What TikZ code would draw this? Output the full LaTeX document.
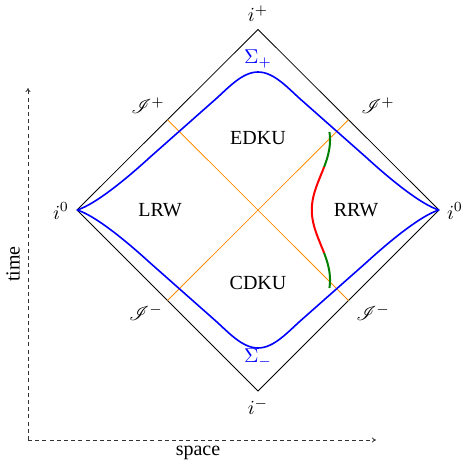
\documentclass[tikz,border=0pt]{standalone}
\usepackage{mathrsfs}
\usepackage{fontspec}
\setmainfont{Liberation Serif}
\usetikzlibrary{arrows.meta}
\definecolor{darkgreen}{RGB}{0,128,0}
\tikzset{
  edge/.style={black, line width=0.4pt},
  horizon/.style={orange!90!yellow, line width=0.4pt},
  sigma/.style={blue, line width=0.8pt},
  axis/.style={black!80, line width=0.4pt, dash pattern=on 2pt off 1.6pt, -{To[length=2pt,width=2.5pt]}},
  lbl/.style={font=\normalsize, inner sep=1pt},
}
\begin{document}
\begin{tikzpicture}[x=0.5pt,y=-0.5pt]
\useasboundingbox (0,0) rectangle (468,469);
% vertices
\coordinate (T) at (258,29.5);
\coordinate (L) at (77,210);
\coordinate (R) at (439,210);
\coordinate (B) at (258,391);
% diamond
\draw[edge] (T) -- (R) -- (B) -- (L) -- cycle;
% horizons
\coordinate (mTL) at (167.5,119.75);
\coordinate (mTR) at (348.5,119.75);
\coordinate (mBL) at (167.5,300.5);
\coordinate (mBR) at (348.5,300.5);
\draw[horizon] (mTL) -- (mBR);
\draw[horizon] (mTR) -- (mBL);
% Sigma +
\draw[sigma] (L) .. controls (94,205) and (124,181) .. (150,157.2)
  -- (215,99.7) .. controls (228,88.2) and (242,72) .. (258,72)
  .. controls (274,72) and (288,88.2) .. (301,99.7)
  -- (366,157.2) .. controls (392,181) and (422,205) .. (R);
% Sigma -
\draw[sigma] (L) .. controls (94,215) and (124,239) .. (150,262.8)
  -- (215,320.3) .. controls (228,331.8) and (242,348) .. (258,348)
  .. controls (274,348) and (288,331.8) .. (301,320.3)
  -- (366,262.8) .. controls (392,239) and (422,215) .. (R);
% red/green curve
\draw[darkgreen, line width=1pt] plot[domain=132:167, samples=30, variable=\t] ({320.9-9.1*cos(180*(\t-210)/70)}, \t);
\draw[red, line width=1pt] plot[domain=167:253, samples=50, variable=\t] ({320.9-9.1*cos(180*(\t-210)/70)}, \t);
\draw[darkgreen, line width=1pt] plot[domain=253:288, samples=30, variable=\t] ({320.9-9.1*cos(180*(\t-210)/70)}, \t);
% labels
\node[lbl] (ip) at (258,14) {$i^+$};
\node[lbl] (im) at (258,407) {$i^-$};
\node[lbl] (i0l) at (61,211) {$i^0$};
\node[lbl] (i0r) at (455,211) {$i^0$};
\node[lbl] (Jtl) at (148,106) {$\mathscr{I}^+$};
\node[lbl] (Jtr) at (378,106) {$\mathscr{I}^+$};
\node[lbl] (Jbl) at (146,313) {$\mathscr{I}^-$};
\node[lbl] (Jbr) at (373,313) {$\mathscr{I}^-$};
\node[lbl, text=blue] (Sp) at (258,59) {$\Sigma_+$};
\node[lbl, text=blue] (Sm) at (258,358) {$\Sigma_-$};
\node[lbl] (EDKU) at (258,138) {EDKU};
\node[lbl] (CDKU) at (258,283) {CDKU};
\node[lbl] (LRW) at (160,210) {LRW};
\node[lbl] (RRW) at (356,210) {RRW};
% axes
\coordinate (O) at (28,440);
\coordinate (Ty) at (28,88);
\coordinate (Sx) at (376,440);
\draw[axis] (O) -- (Ty);
\draw[axis] (O) -- (Sx);
\node[lbl, rotate=90] (time) at (13,264) {time};
\node[lbl] (space) at (198,453) {space};
\end{tikzpicture}
\end{document}
